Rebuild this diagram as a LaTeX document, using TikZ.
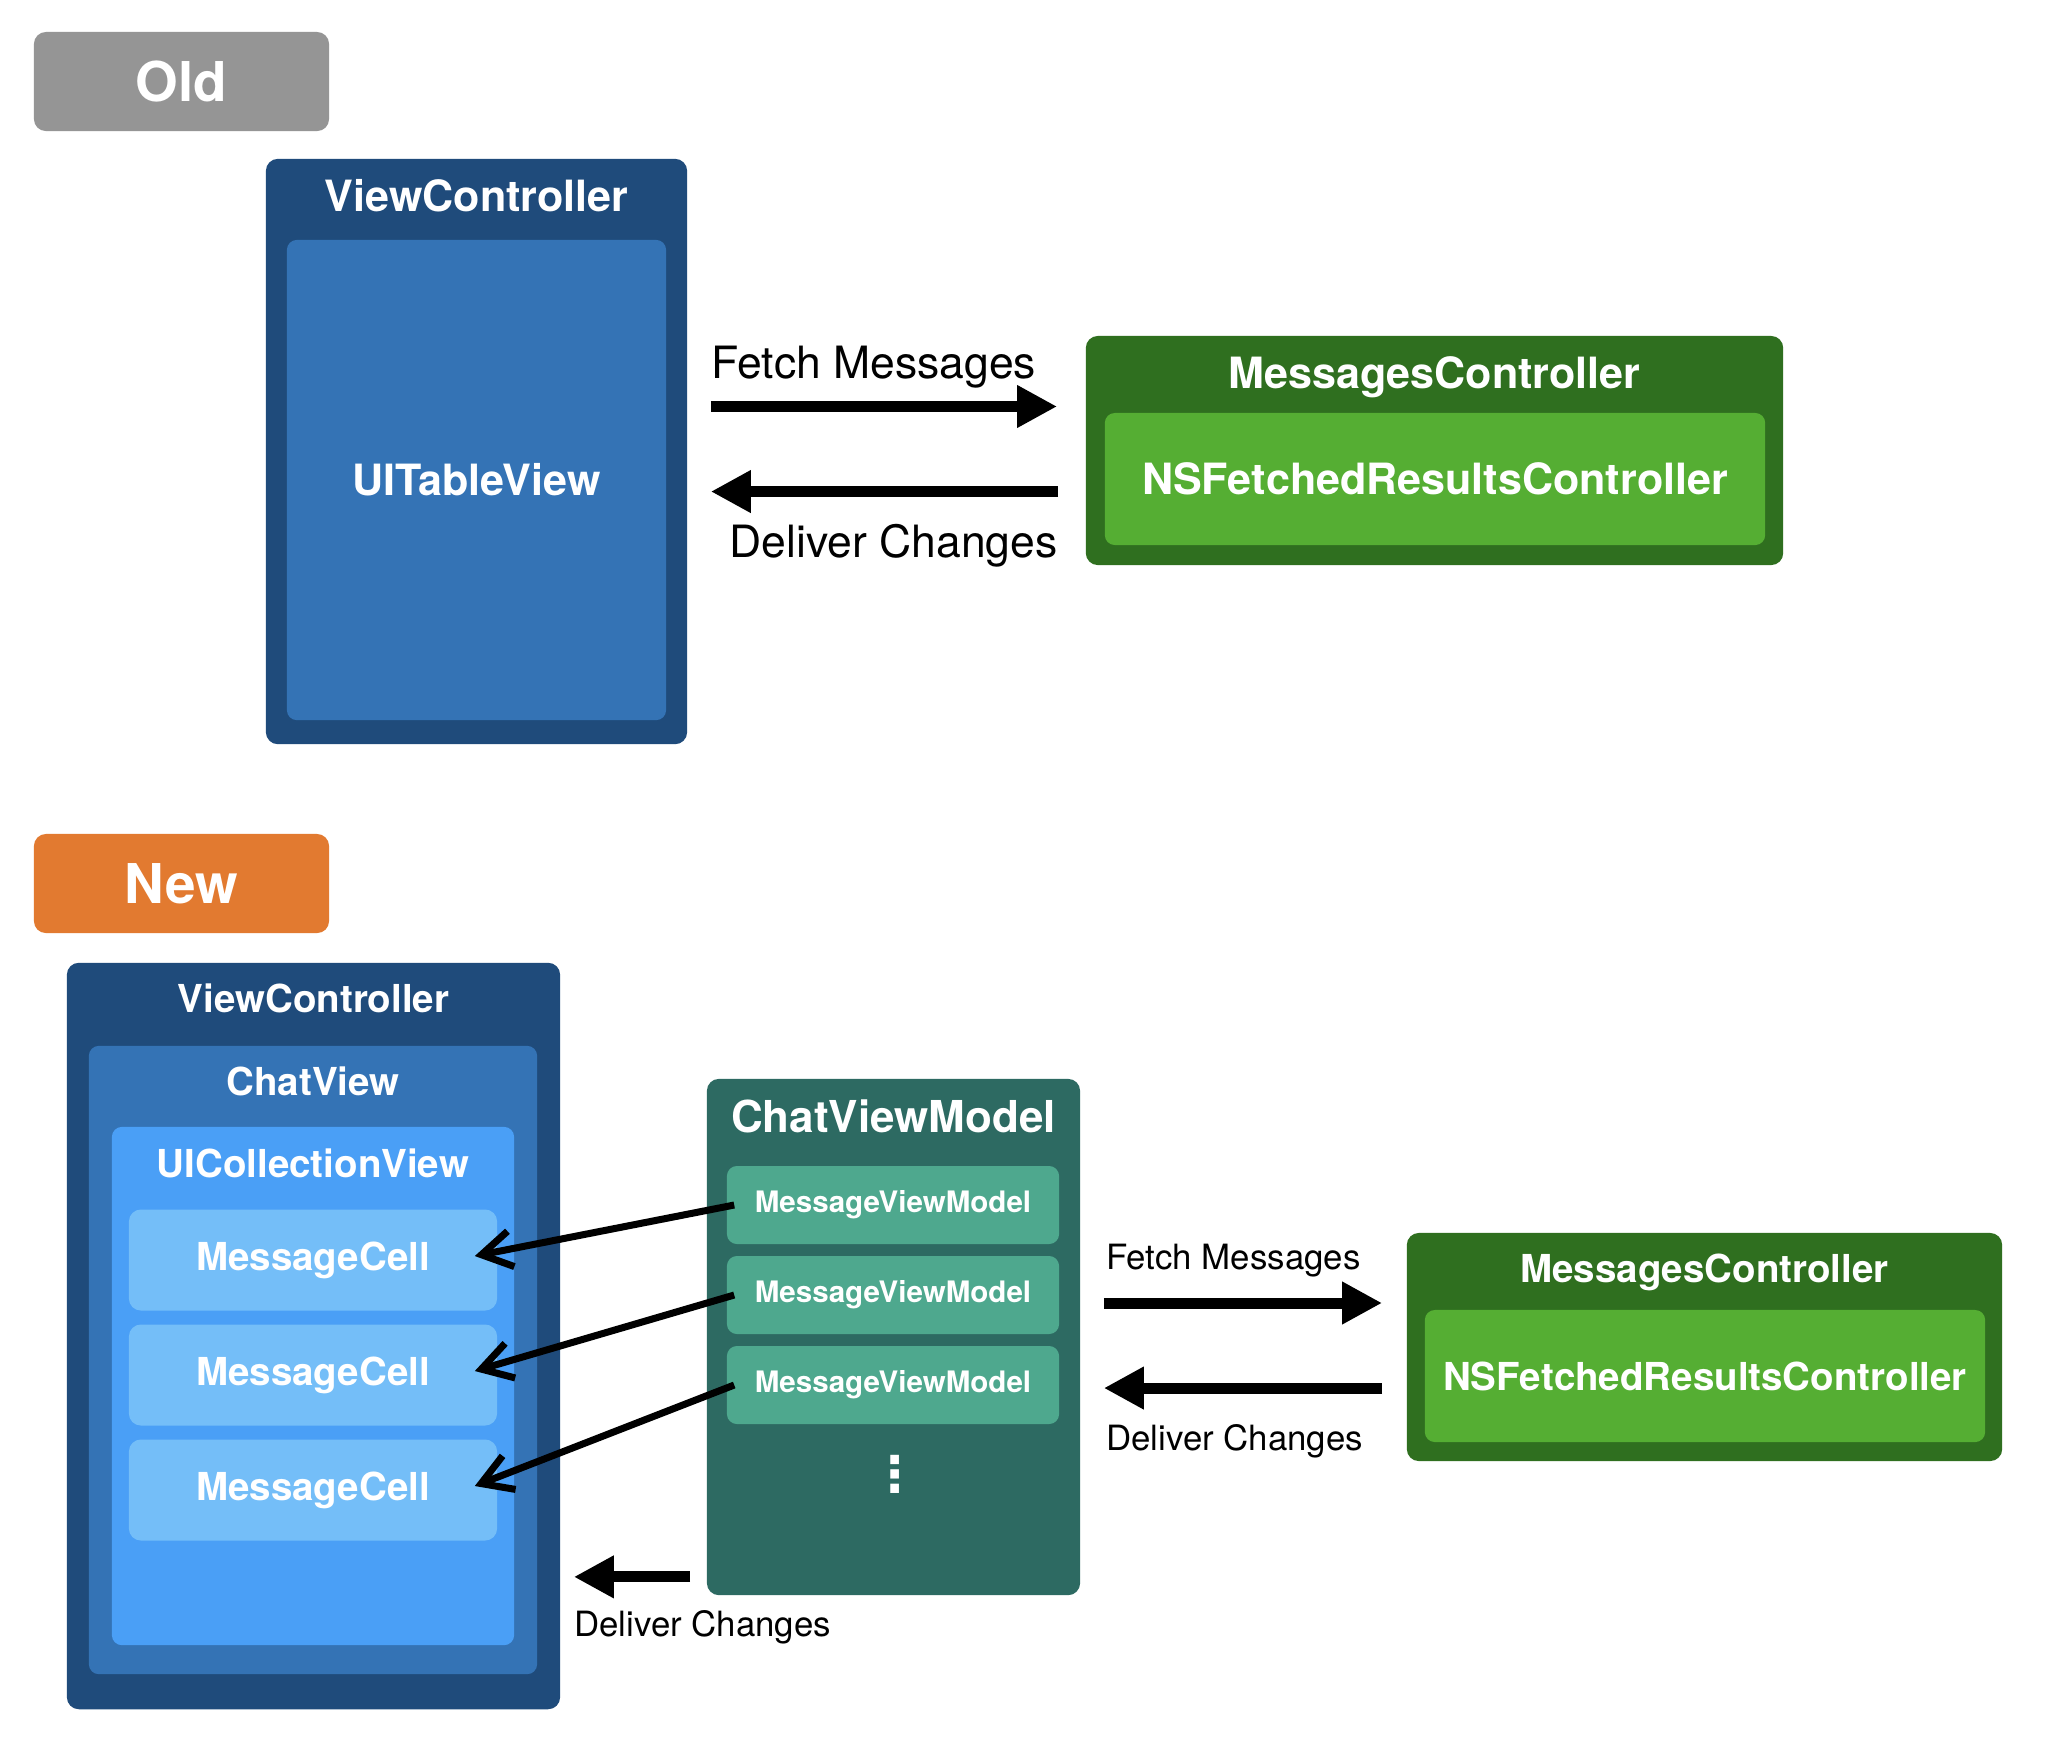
\documentclass[tikz,border=0pt]{standalone}
\usepackage{fontspec}
\setmainfont{TeX Gyre Heros}
\newfontfamily\dotsfont{DejaVu Sans}
\usetikzlibrary{arrows.meta, positioning}
\definecolor{tagGray}{HTML}{959595}
\definecolor{tagOrange}{HTML}{E27A30}
\definecolor{vcBlue}{HTML}{1F4B7B}
\definecolor{viewBlue}{HTML}{3473B5}
\definecolor{listBlue}{HTML}{4A9FF6}
\definecolor{cellBlue}{HTML}{74BEF8}
\definecolor{vmTeal}{HTML}{2D6A62}
\definecolor{mvmTeal}{HTML}{4EA88E}
\definecolor{mcGreen}{HTML}{2F6F1F}
\definecolor{frcGreen}{HTML}{55AE33}

\begin{document}
\begin{tikzpicture}[
        x=0.01cm, y=-0.01cm,
        box/.style={rounded corners=0.12cm, inner sep=0pt, text=white},
        tag/.style={box, minimum width=2.95cm, minimum height=0.99cm,
          font=\fontsize{15.6}{18}\selectfont\bfseries},
        bigtitle/.style={inner sep=0pt, text=white, font=\fontsize{12.25}{14}\selectfont\bfseries},
        smalltitle/.style={inner sep=0pt, text=white, font=\fontsize{10.95}{13}\selectfont\bfseries},
        cell/.style={box, fill=cellBlue, minimum width=3.68cm, minimum height=1.01cm,
          font=\fontsize{10.95}{13}\selectfont\bfseries},
        mvm/.style={box, rounded corners=0.1cm, fill=mvmTeal, minimum width=3.32cm, minimum height=0.78cm,
          font=\fontsize{8.4}{10}\selectfont\bfseries},
        fat/.style={line width=0.11cm, -{Triangle[length=0.4cm,width=0.4cm]}},
        pointer/.style={line width=0.07cm, -{Straight Barb[length=0.3cm,width=0.36cm]}},
        biglbl/.style={inner sep=0pt, font=\fontsize{12.65}{15}\selectfont},
        smalllbl/.style={inner sep=0pt, font=\fontsize{9.9}{12}\selectfont},
        ]
        \fill[white] (0,0) rectangle (2048,1759);
        \useasboundingbox (0,0) rectangle (2048,1759);

        % old design
        \node[tag, fill=tagGray] (tag_old) at (181.5,81.5) {Old};
        \node[box, fill=vcBlue, minimum width=4.21cm, minimum height=5.85cm] (old_vc) at (476.5,451.5) {};
        \node[bigtitle] (old_vc_t) [below=0.21cm of old_vc.north] {ViewController};
        \node[box, rounded corners=0.1cm, fill=viewBlue, minimum width=3.79cm, minimum height=4.8cm,
          font=\fontsize{12.25}{14}\selectfont\bfseries] (old_tv) at (476.5,480) {UITableView};
        \node[box, fill=mcGreen, minimum width=6.97cm, minimum height=2.29cm] (old_mc) at (1434.5,450.5) {};
        \node[bigtitle] (old_mc_t) [below=0.21cm of old_mc.north] {MessagesController};
        \node[box, rounded corners=0.1cm, fill=frcGreen, minimum width=6.6cm, minimum height=1.32cm,
          font=\fontsize{12.25}{14}\selectfont\bfseries] (old_frc) at (1435,479) {NSFetchedResultsController};

        \coordinate (f_old) at ([yshift=0.44cm]old_mc.west);
        \coordinate (d_old) at ([yshift=-0.41cm]old_mc.west);
        \draw[fat, shorten <=0.23cm, shorten >=0.28cm] (old_vc.east |- f_old) -- (f_old)
          node[biglbl, pos=0, anchor=south west, xshift=0.18cm, yshift=0.13cm] {Fetch Messages};
        \draw[fat, shorten <=0.27cm, shorten >=0.23cm] (d_old) -- (old_vc.east |- d_old)
          node[biglbl, pos=0, anchor=north east, xshift=-0.22cm, yshift=-0.27cm] {Deliver Changes};

        % new design
        \node[tag, fill=tagOrange] (tag_new) at (181.5,883.5) {New};
        \node[box, fill=vcBlue, minimum width=4.93cm, minimum height=7.46cm] (new_vc) at (313.5,1336) {};
        \node[smalltitle] (new_vc_t) [below=0.21cm of new_vc.north] {ViewController};
        \node[box, rounded corners=0.1cm, fill=viewBlue, minimum width=4.48cm, minimum height=6.28cm] (new_cv) at (313,1360) {};
        \node[smalltitle] (new_cv_t) [below=0.21cm of new_cv.north] {ChatView};
        \node[box, rounded corners=0.1cm, fill=listBlue, minimum width=4.02cm, minimum height=5.18cm] (new_cl) at (313,1386) {};
        \node[smalltitle] (new_cl_t) [below=0.22cm of new_cl.north] {UICollectionView};
        \foreach \i/\y in {1/1260, 2/1375, 3/1490}
          \node[cell] (cell_\i) at (313,\y) {MessageCell};

        \node[box, fill=vmTeal, minimum width=3.73cm, minimum height=5.16cm] (cvm) at (893.5,1337) {};
        \node[bigtitle, font=\fontsize{12.5}{15}\selectfont\bfseries] (cvm_t) [below=0.21cm of cvm.north] {ChatViewModel};
        \foreach \i/\y in {1/1205, 2/1295, 3/1385}
          \node[mvm] (mvm_\i) at (893,\y) {MessageViewModel};
        \node[text=white, inner sep=0pt, font=\fontsize{14}{14}\selectfont\dotsfont\bfseries] (dots) at (895,1474) {⋮};

        \node[box, fill=mcGreen, minimum width=5.95cm, minimum height=2.28cm] (new_mc) at (1704.5,1347) {};
        \node[smalltitle] (new_mc_t) [below=0.21cm of new_mc.north] {MessagesController};
        \node[box, rounded corners=0.1cm, fill=frcGreen, minimum width=5.6cm, minimum height=1.32cm,
          font=\fontsize{10.95}{13}\selectfont\bfseries] (new_frc) at (1705,1376) {NSFetchedResultsController};

        \foreach \i in {1,2,3}
          \draw[pointer] ([xshift=0.08cm]mvm_\i.west) -- ([xshift=-0.23cm, yshift=0.04cm]cell_\i.east);

        \coordinate (f_new) at ([yshift=0.44cm]new_mc.west);
        \coordinate (d_new) at ([yshift=-0.41cm]new_mc.west);
        \coordinate (d_cvm) at ([yshift=0.19cm]cvm.south west);
        \draw[fat, shorten <=0.23cm, shorten >=0.24cm] (cvm.east |- f_new) -- (f_new)
          node[smalllbl, pos=0, anchor=south west, xshift=0.2cm, yshift=0.2cm] {Fetch Messages};
        \draw[fat, shorten <=0.24cm, shorten >=0.23cm] (d_new) -- (cvm.east |- d_new)
          node[smalllbl, pos=1, anchor=north west, xshift=0.2cm, yshift=-0.31cm] {Deliver Changes};
        \draw[fat, shorten <=0.16cm, shorten >=0.13cm] (d_cvm) -- (new_vc.east |- d_cvm)
          node[smalllbl, pos=1, anchor=north west, xshift=0.08cm, yshift=-0.28cm] {Deliver Changes};
      \end{tikzpicture}
\end{document}
